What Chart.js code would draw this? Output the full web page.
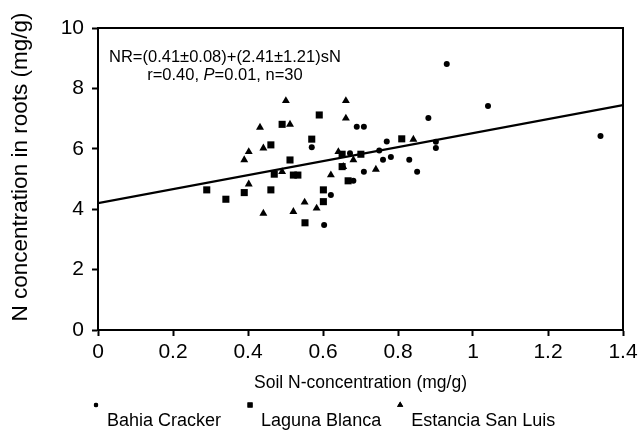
<!DOCTYPE html>
<html>
<head>
<meta charset="utf-8">
<script src="https://cdn.jsdelivr.net/npm/chart.js@4/dist/chart.umd.min.js"></script>
<style>
  html, body { margin: 0; padding: 0; background: #fff; }
  #wrap { width: 644px; height: 439px; position: relative; }
</style>
</head>
<body>
<div id="wrap"><canvas id="c"></canvas></div>
<script>
// ---- data ----
const seriesNames = ['Bahia Cracker', 'Laguna Blanca', 'Estancia San Luis'];

const bahiaX = [0.570, 0.690, 0.709, 0.672, 0.709, 0.621, 0.603, 0.681, 0.930, 1.040,
                0.881, 0.770, 0.750, 0.760, 0.781, 0.830, 0.851, 0.901, 0.901, 1.340];
const bahiaY = [6.05, 6.73, 6.73, 5.85, 5.24, 4.47, 3.48, 4.94, 8.81, 7.42,
                7.02, 6.24, 5.94, 5.64, 5.73, 5.64, 5.24, 6.03, 6.23, 6.42];

const lagunaX = [0.491, 0.590, 0.570, 0.461, 0.512, 0.470, 0.521, 0.533, 0.290, 0.341,
                 0.390, 0.461, 0.601, 0.601, 0.552, 0.651, 0.701, 0.651, 0.667, 0.810];
const lagunaY = [6.81, 7.12, 6.32, 6.13, 5.63, 5.16, 5.13, 5.13, 4.64, 4.33,
                 4.55, 4.64, 4.64, 4.25, 3.55, 5.82, 5.82, 5.41, 4.94, 6.33];

const estanciaX = [0.501, 0.661, 0.661, 0.512, 0.432, 0.441, 0.402, 0.390, 0.641, 0.654,
                   0.681, 0.491, 0.621, 0.402, 0.441, 0.521, 0.551, 0.583, 0.841, 0.741];
const estanciaY = [7.59, 7.59, 7.01, 6.81, 6.71, 6.02, 5.90, 5.63, 5.90, 5.41,
                   5.63, 5.24, 5.13, 4.83, 3.86, 3.92, 4.23, 4.03, 6.31, 5.32];

const fitX = [0, 1.4];
const fitY = [4.2, 7.45];

const xTickLabels = ['0', '0.2', '0.4', '0.6', '0.8', '1', '1.2', '1.4'];
const yTickLabels = ['0', '2', '4', '6', '8', '10'];

const xTitle = 'Soil N-concentration (mg/g)';
const yTitle = 'N concentration in roots (mg/g)';
const eqLine1 = 'NR=(0.41\u00B10.08)+(2.41\u00B11.21)sN';
const eqLine2 = [['r=0.40, ', false], ['P', true], ['=0.01, n=30', false]];

// ---- build ----
const FONT = "'Liberation Sans', Arial, Helvetica, sans-serif";
const toPts = (xs, ys) => xs.map((x, i) => ({ x: x, y: ys[i] }));

const pointStyles = ['circle', 'rect', 'triangle'];
const pointRadii = [3, 5, 4.6];
const seriesX = [bahiaX, lagunaX, estanciaX];
const seriesY = [bahiaY, lagunaY, estanciaY];

const datasets = seriesNames.map((name, k) => ({
  type: 'scatter',
  label: name,
  data: toPts(seriesX[k], seriesY[k]),
  pointStyle: pointStyles[k],
  pointRadius: pointRadii[k],
  pointHoverRadius: pointRadii[k],
  backgroundColor: '#000',
  borderColor: '#000',
  borderWidth: 0,
  order: 2
}));
datasets.push({
  type: 'line',
  label: 'fit',
  data: toPts(fitX, fitY),
  borderColor: '#000',
  borderWidth: 2.2,
  pointRadius: 0,
  fill: false,
  order: 1
});

const EQ_SIZE = 16.5;
const LEG_SIZE = 18;
const YTITLE_SIZE = 22.5;

const framePlugin = {
  id: 'frame',
  afterDraw(chart) {
    const { ctx, chartArea: a } = chart;
    ctx.save();
    ctx.strokeStyle = '#000';
    ctx.lineWidth = 2;
    ctx.beginPath();
    ctx.moveTo(a.left, a.top);
    ctx.lineTo(a.right, a.top);
    ctx.lineTo(a.right, a.bottom);
    ctx.stroke();
    ctx.restore();

    // y axis title (slightly above the plot centre, as in the reference)
    ctx.save();
    ctx.fillStyle = '#000';
    ctx.font = YTITLE_SIZE + 'px ' + FONT;
    ctx.textAlign = 'center';
    ctx.textBaseline = 'middle';
    ctx.translate(21, (a.top + a.bottom) / 2 - 12);
    ctx.rotate(-Math.PI / 2);
    ctx.fillText(yTitle, 0, 0);
    ctx.restore();

    // equation text
    ctx.save();
    ctx.fillStyle = '#000';
    ctx.textBaseline = 'alphabetic';
    ctx.font = EQ_SIZE + 'px ' + FONT;
    const x1 = a.left + 11;
    const w1 = ctx.measureText(eqLine1).width;
    ctx.fillText(eqLine1, x1, a.top + 34);
    let total = 0;
    eqLine2.forEach(([t, it]) => {
      ctx.font = (it ? 'italic ' : '') + EQ_SIZE + 'px ' + FONT;
      total += ctx.measureText(t).width;
    });
    let x = x1 + w1 / 2 - total / 2;
    eqLine2.forEach(([t, it]) => {
      ctx.font = (it ? 'italic ' : '') + EQ_SIZE + 'px ' + FONT;
      ctx.fillText(t, x, a.top + 52);
      x += ctx.measureText(t).width;
    });
    ctx.restore();

    // legend (markers raised like superscripts)
    ctx.save();
    ctx.font = LEG_SIZE + 'px ' + FONT;
    ctx.fillStyle = '#000';
    ctx.textBaseline = 'middle';
    const gapMarker = 11, gapItems = [29, 19];
    const widths = seriesNames.map(n => ctx.measureText(n).width);
    let lx = a.left - 2;
    const ty = 421, my = 405;
    seriesNames.forEach((n, k) => {
      Chart.helpers.drawPoint(ctx, {
        pointStyle: pointStyles[k],
        radius: [2.2, 3.6, 3.6][k],
        rotation: 0,
        borderWidth: 0
      }, lx, my);
      ctx.fill();
      ctx.fillText(n, lx + gapMarker, ty);
      lx += gapMarker + widths[k] + (gapItems[k] || 0);
    });
    ctx.restore();
  }
};

const tickFont = { family: FONT, size: 21 };

new Chart(document.getElementById('c'), {
  type: 'scatter',
  data: { datasets: datasets },
  options: {
    responsive: true,
    maintainAspectRatio: false,
    animation: false,
    events: [],
    layout: { padding: { top: 28, right: 21, bottom: 40, left: 0 } },
    plugins: {
      legend: { display: false },
      tooltip: { enabled: false }
    },
    scales: {
      x: {
        type: 'linear',
        min: 0, max: 1.4,
        ticks: {
          stepSize: 0.2,
          color: '#000',
          font: tickFont,
          padding: 4,
          maxRotation: 0,
          autoSkip: false,
          callback: (v, i) => xTickLabels[i]
        },
        grid: {
          display: true, drawOnChartArea: false, drawTicks: true,
          tickLength: 6, tickWidth: 2, tickColor: '#000', color: '#000'
        },
        border: { display: true, color: '#000', width: 2 },
        title: {
          display: true, text: xTitle, color: '#000',
          font: { family: FONT, size: 17.5 },
          padding: { top: 4, bottom: 5 }
        },
        afterFit: s => { s.height = 69; }
      },
      y: {
        type: 'linear',
        min: 0, max: 10,
        ticks: {
          stepSize: 2,
          color: '#000',
          font: tickFont,
          padding: 8,
          callback: (v, i) => yTickLabels[i]
        },
        grid: {
          display: true, drawOnChartArea: false, drawTicks: true,
          tickLength: 6, tickWidth: 2, tickColor: '#000', color: '#000'
        },
        border: { display: true, color: '#000', width: 2 },
        title: { display: false },
        afterFit: s => { s.width = 98; }
      }
    }
  },
  plugins: [framePlugin]
});
</script>
</body>
</html>
